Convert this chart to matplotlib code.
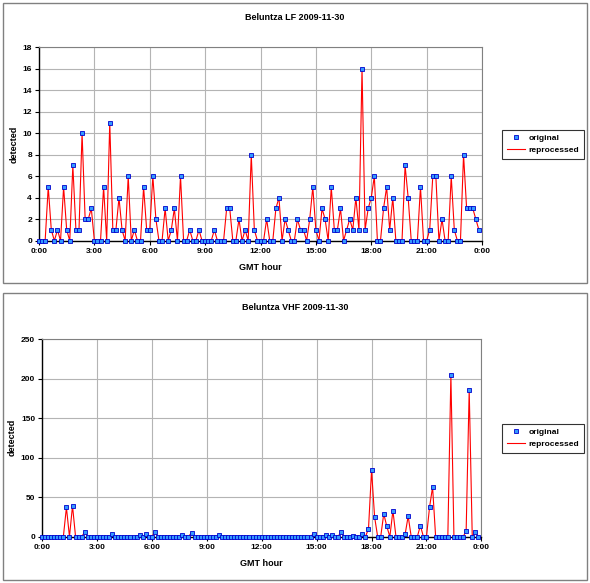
import numpy as np
import matplotlib
matplotlib.use('Agg')
from matplotlib import pyplot as plt
from matplotlib.patches import Rectangle

# 10-minute samples over the day (144 per station)
hours = np.arange(144) / 6.0

lf_detected = [
    0, 0, 0, 5, 1, 0, 1, 0, 5, 1, 0, 7, 1, 1, 10, 2, 2, 3, 0, 0,
    0, 5, 0, 11, 1, 1, 4, 1, 0, 6, 0, 1, 0, 0, 5, 1, 1, 6, 2, 0,
    0, 3, 0, 1, 3, 0, 6, 0, 0, 1, 0, 0, 1, 0, 0, 0, 0, 1, 0, 0,
    0, 3, 3, 0, 0, 2, 0, 1, 0, 8, 1, 0, 0, 0, 2, 0, 0, 3, 4, 0,
    2, 1, 0, 0, 2, 1, 1, 0, 2, 5, 1, 0, 3, 2, 0, 5, 1, 1, 3, 0,
    1, 2, 1, 4, 1, 16, 1, 3, 4, 6, 0, 0, 3, 5, 1, 4, 0, 0, 0, 7,
    4, 0, 0, 0, 5, 0, 0, 1, 6, 6, 0, 2, 0, 0, 6, 1, 0, 0, 8, 3,
    3, 3, 2, 1,
]

vhf_detected = [
    0, 0, 0, 0, 0, 0, 0, 0, 37, 0, 39, 0, 0, 0, 6, 0, 0, 0, 0, 0,
    0, 0, 0, 3, 0, 0, 0, 0, 0, 0, 0, 0, 2, 0, 3, 0, 0, 6, 0, 0,
    0, 0, 0, 0, 0, 0, 2, 0, 0, 5, 0, 0, 0, 0, 0, 0, 0, 0, 2, 0,
    0, 0, 0, 0, 0, 0, 0, 0, 0, 0, 0, 0, 0, 0, 0, 0, 0, 0, 0, 0,
    0, 0, 0, 0, 0, 0, 0, 0, 0, 4, 0, 0, 0, 2, 0, 2, 0, 0, 6, 0,
    0, 0, 1, 0, 0, 3, 0, 10, 84, 25, 0, 0, 29, 13, 0, 33, 0, 0, 0, 3,
    26, 0, 0, 0, 14, 0, 0, 37, 63, 0, 0, 0, 0, 0, 205, 0, 0, 0, 0, 7,
    186, 0, 6, 0,
]

hour_ticks = [0, 3, 6, 9, 12, 15, 18, 21, 24]
hour_labels = ['0:00', '3:00', '6:00', '9:00', '12:00', '15:00', '18:00', '21:00', '0:00']

plt.rcParams['font.family'] = ['Liberation Sans', 'DejaVu Sans']
plt.rcParams['font.weight'] = 'bold'

W, H = 590, 583
fig = plt.figure(figsize=(W / 100, H / 100), dpi=100)


def px_box(x0, y0, x1, y1):
    # pixel box (top-left origin) -> figure fraction [left, bottom, width, height]
    return [x0 / W, 1 - y1 / H, (x1 - x0) / W, (y1 - y0) / H]


def draw_panel(box, frame, values, title, title_y, ymax, ystep, legend_y):
    fig.patches.append(Rectangle((frame[0], frame[1]), frame[2], frame[3],
                                 transform=fig.transFigure, fill=False,
                                 edgecolor='#808080', lw=1.0))
    ax = fig.add_axes(box)
    ax.plot(hours, values, color='#ff0000', lw=0.8, label='reprocessed', zorder=3)
    ax.plot(hours, values, ls='none', marker='s', ms=3.3, mfc='#3399ff',
            mec='#0000cc', mew=0.6, label='original', zorder=4, clip_on=False)
    ax.set_xlim(0, 24)
    ax.set_ylim(0, ymax)
    ax.set_xticks(hour_ticks)
    ax.set_xticklabels(hour_labels)
    ax.set_yticks(np.arange(0, ymax + 1, ystep))
    ax.tick_params(labelsize=6, length=3, width=0.8, pad=2)
    ax.grid(True, color='#b4b4b4', lw=0.8)
    ax.set_axisbelow(True)
    for s in ['top', 'right']:
        ax.spines[s].set_color('#808080')
        ax.spines[s].set_linewidth(0.8)
    for s in ['left', 'bottom']:
        ax.spines[s].set_color('#000000')
        ax.spines[s].set_linewidth(1.0)
    # chart title is centred on the whole chart frame, not the plot area
    fig.text(295 / W, 1 - title_y / H, title, fontsize=6.5, fontweight='bold',
             ha='center', va='center')
    ax.set_xlabel('GMT hour', fontsize=6.5, fontweight='bold', labelpad=6)
    ax.set_ylabel('detected', fontsize=6.5, fontweight='bold', labelpad=3)

    handles, labels = ax.get_legend_handles_labels()
    leg = ax.legend([handles[1], handles[0]], [labels[1], labels[0]],
                    loc='center left', bbox_to_anchor=(502 / W, 1 - legend_y / H),
                    bbox_transform=fig.transFigure, fontsize=6, frameon=True,
                    fancybox=False, edgecolor='#000000', handlelength=2.2,
                    borderpad=0.6, labelspacing=0.4, handletextpad=0.4,
                    borderaxespad=0)
    leg.get_frame().set_linewidth(0.8)
    return ax


draw_panel(px_box(39, 47.3, 482, 240.7), (3 / W, 1 - 283 / H, 584 / W, 280 / H),
           lf_detected, 'Beluntza LF 2009-11-30', 18, 18, 2, 144)
draw_panel(px_box(42, 339, 481.4, 536.7), (3 / W, 1 - 580 / H, 584 / W, 287 / H),
           vhf_detected, 'Beluntza VHF 2009-11-30', 308, 250, 50, 438)

plt.savefig('out.png', dpi=100)
